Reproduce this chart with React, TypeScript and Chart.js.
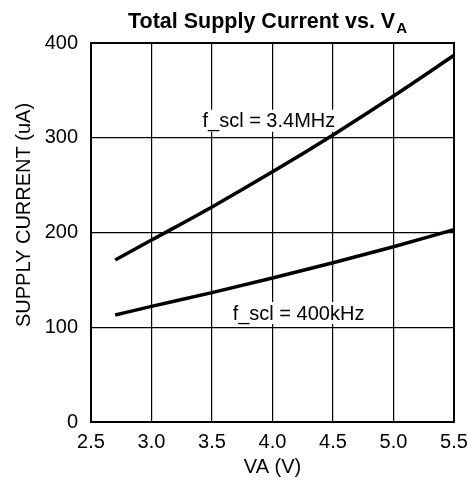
import { useEffect, useRef } from 'react';
import { Chart, registerables } from 'chart.js';

Chart.register(...registerables);

const VOLTAGES = [2.7, 3.0, 3.5, 4.0, 4.5, 5.0, 5.5];
const CURRENT_3M4 = [171, 192, 227, 264, 303, 344, 387];
const CURRENT_400K = [113, 122, 136.5, 152, 168, 185, 203];
const X_TICKS = [2.5, 3.0, 3.5, 4.0, 4.5, 5.0, 5.5];
const Y_TICKS = [0, 100, 200, 300, 400];
const CURVE_LABELS = ['f_scl = 3.4MHz', 'f_scl = 400kHz'];
const LABEL_AT_X = [3.97, 4.215];
const LABEL_AT_Y = [318, 115];
const TITLE_MAIN = 'Total Supply Current vs. V';
const TITLE_SUB = 'A';
const X_TITLE = 'VA (V)';
const Y_TITLE = 'SUPPLY CURRENT (uA)';

const FONT = "'Liberation Sans', Arial, Helvetica, sans-serif";

export default function App() {
  const ref = useRef<HTMLCanvasElement | null>(null);

  useEffect(() => {
    document.body.style.margin = '0';
    const canvas = ref.current;
    if (!canvas) return;

    const decorPlugin = {
      id: 'decor',
      beforeDatasetsDraw(chart: any) {
        const ctx = chart.ctx;
        const xs = chart.scales.x;
        const ys = chart.scales.y;
        ctx.save();
        ctx.font = `20px ${FONT}`;
        ctx.textAlign = 'center';
        ctx.textBaseline = 'middle';
        CURVE_LABELS.forEach((t, i) => {
          const px = xs.getPixelForValue(LABEL_AT_X[i]);
          const py = ys.getPixelForValue(LABEL_AT_Y[i]);
          const w = ctx.measureText(t).width;
          ctx.fillStyle = '#ffffff';
          ctx.fillRect(px - w / 2 - 2, py - 11, w + 4, 22);
          ctx.fillStyle = '#000000';
          ctx.fillText(t, px, py + 1);
        });
        ctx.restore();
      },
      afterDraw(chart: any) {
        const ctx = chart.ctx;
        const a = chart.chartArea;
        ctx.save();
        ctx.strokeStyle = '#000000';
        ctx.lineWidth = 2;
        ctx.strokeRect(a.left, a.top, a.right - a.left, a.bottom - a.top);
        ctx.fillStyle = '#000000';
        ctx.textBaseline = 'alphabetic';
        ctx.textAlign = 'left';
        ctx.font = `bold 21.5px ${FONT}`;
        const wMain = ctx.measureText(TITLE_MAIN).width;
        ctx.font = `bold 15px ${FONT}`;
        const wSub = ctx.measureText(TITLE_SUB).width;
        const start = 267.5 - (wMain + wSub + 1) / 2;
        ctx.font = `bold 21.5px ${FONT}`;
        ctx.fillText(TITLE_MAIN, start, 28);
        ctx.font = `bold 15px ${FONT}`;
        ctx.fillText(TITLE_SUB, start + wMain + 1, 33);
        ctx.font = `20px ${FONT}`;
        ctx.textAlign = 'center';
        ctx.textBaseline = 'middle';
        ctx.fillText(X_TITLE, (a.left + a.right) / 2, 467);
        ctx.translate(24, 215);
        ctx.rotate(-Math.PI / 2);
        ctx.fillText(Y_TITLE, 0, 0);
        ctx.restore();
      },
    };

    const chart = new Chart(canvas, {
      type: 'line',
      data: {
        datasets: [
          {
            label: CURVE_LABELS[0],
            data: VOLTAGES.map((v, i) => ({ x: v, y: CURRENT_3M4[i] })),
            borderColor: '#000000',
            borderWidth: 3.5,
            pointRadius: 0,
            cubicInterpolationMode: 'monotone',
            fill: false,
          },
          {
            label: CURVE_LABELS[1],
            data: VOLTAGES.map((v, i) => ({ x: v, y: CURRENT_400K[i] })),
            borderColor: '#000000',
            borderWidth: 3.5,
            pointRadius: 0,
            cubicInterpolationMode: 'monotone',
            fill: false,
          },
        ],
      },
      options: {
        responsive: false,
        animation: false,
        layout: { padding: { top: 43, right: 15, left: 0, bottom: 0 } },
        plugins: {
          legend: { display: false },
          title: { display: false },
          tooltip: { enabled: false },
        },
        scales: {
          x: {
            type: 'linear',
            min: 2.5,
            max: 5.5,
            afterFit(scale: any) {
              scale.height = 65;
              scale.paddingRight = 0;
              scale.paddingLeft = 0;
            },
            afterBuildTicks(scale: any) {
              scale.ticks = X_TICKS.map((v) => ({ value: v }));
            },
            grid: { color: '#000000', lineWidth: 1.2, drawTicks: false },
            border: { display: false },
            ticks: {
              padding: 8,
              color: '#000000',
              font: { family: FONT, size: 20 },
              maxRotation: 0,
              autoSkip: false,
              callback: (v: any) => Number(v).toFixed(1),
            },
          },
          y: {
            type: 'linear',
            min: 0,
            max: 400,
            afterFit(scale: any) {
              scale.width = 91;
              scale.paddingTop = 0;
              scale.paddingBottom = 0;
            },
            afterBuildTicks(scale: any) {
              scale.ticks = Y_TICKS.map((v) => ({ value: v }));
            },
            grid: { color: '#000000', lineWidth: 1.2, drawTicks: false },
            border: { display: false },
            ticks: {
              padding: 13,
              color: '#000000',
              font: { family: FONT, size: 20 },
              autoSkip: false,
              callback: (v: any) => String(v),
            },
          },
        },
      },
      plugins: [decorPlugin],
    } as any);

    return () => chart.destroy();
  }, []);

  return (
    <div style={{ width: 469, height: 487 }}>
      <canvas ref={ref} width={469} height={487} />
    </div>
  );
}
